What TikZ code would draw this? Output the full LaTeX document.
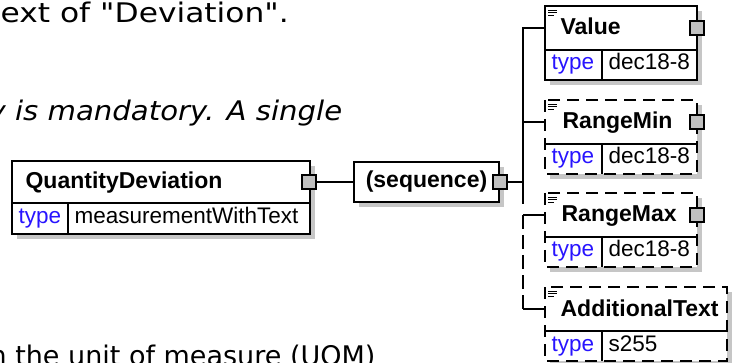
\documentclass[tikz,border=0pt]{standalone}
\usepackage{fontspec}
\usepackage{graphicx}
\usepackage{tikz}
\usepackage{xcolor}
\newfontfamily\diagfont{Liberation Sans}
\newfontfamily\descfont{DejaVu Sans}
\definecolor{shadowgray}{RGB}{198,198,198}
\definecolor{portgray}{RGB}{192,192,192}
\definecolor{typeblue}{RGB}{40,20,255}
\tikzset{
  desc/.style={font=\descfont\fontsize{27}{32}\selectfont, inner sep=0pt, anchor=base west},
  hdr/.style={font=\diagfont\bfseries\fontsize{23}{27}\selectfont, inner sep=0pt, anchor=base west},
  typelbl/.style={font=\diagfont\fontsize{22.5}{26}\selectfont, text=typeblue, inner sep=0pt, anchor=base west},
  typeval/.style={font=\diagfont\fontsize{22.5}{26}\selectfont, inner sep=0pt, anchor=base west},
  seqbox/.style={draw, fill=white, minimum width=145pt, minimum height=40pt, inner sep=0pt,
    font=\diagfont\bfseries\fontsize{23}{27}\selectfont},
  port/.style={draw, fill=portgray, minimum size=14pt, inner sep=0pt},
  optbox/.style={dash pattern=on 12pt off 7pt},
  optline/.style={dash pattern=on 14pt off 6pt},
  docicon/.style={line width=0.9pt}
}

\begin{document}
\begin{tikzpicture}[x=1pt,y=-1pt,line width=1.2pt]
\clip (0,0) rectangle (733,363);
\fill[white] (0,0) rectangle (733,363);
% page text behind the diagram
\node[desc] (line1) at (0,23) {\scalebox{1.16}[1]{ext of "Deviation".}};
\node[desc,font=\descfont\itshape\fontsize{27}{32}\selectfont] (line2) at (-12,121) {\scalebox{1.08}[1]{y is mandatory. A single}};
\node[desc] (line3) at (-11,365) {n the unit of measure (UOM)};
% QuantityDeviation
\fill[shadowgray] (17,166) rectangle (315,239);
\fill[white] (12,161) rectangle (310,234);
\draw (12,161) rectangle (310,234);
\draw (12,203) -- (310,203);
\draw (68,203) -- (68,234);
\node[hdr] (qd) at (25,189) {QuantityDeviation};
\node[typelbl] (qdtype) at (18,224) {type};
\node[typeval] (qdval) at (74,224) {measurementWithText};
\node[port] (qdport) at (309,182) {};
% (sequence)
\fill[shadowgray] (359,167) rectangle (504,207);
\node[seqbox] (seq) at (426.5,182) {(sequence)};
\node[port] (seqport) at (500,182) {};
% Value
\fill[shadowgray] (550,11) rectangle (702,85);
\fill[white] (545,6) rectangle (697,80);
\draw (545,6) rectangle (697,80);
\draw (545,50) -- (697,50);
\draw (602,50) -- (602,80);
\draw[docicon] (548,10) -- (557,10) (548,12.5) -- (557,12.5) (548,15) -- (554,15);
\node[hdr] (value) at (560,35) {Value};
\node[typelbl] (valuetype) at (551,70) {type};
\node[typeval] (valueval) at (608,70) {dec18-8};
\node[port] (valueport) at (697,28) {};
\coordinate (valuein) at (545,28);
% RangeMin
\fill[shadowgray] (550,105) rectangle (702,179);
\fill[white] (545,100) rectangle (697,174);
\draw[optbox] (545,100) rectangle (697,174);
\draw (545,144) -- (697,144);
\draw (602,144) -- (602,174);
\draw[docicon] (548,104) -- (557,104) (548,106.5) -- (557,106.5) (548,109) -- (554,109);
\node[hdr] (rmin) at (562,129) {RangeMin};
\node[typelbl] (rmintype) at (551,164) {type};
\node[typeval] (rminval) at (608,164) {dec18-8};
\node[port] (rminport) at (697,122) {};
\coordinate (rminin) at (545,122);
% RangeMax
\fill[shadowgray] (550,198) rectangle (702,272);
\fill[white] (545,193) rectangle (697,267);
\draw[optbox] (545,193) rectangle (697,267);
\draw (545,237) -- (697,237);
\draw (602,237) -- (602,267);
\draw[docicon] (548,197) -- (557,197) (548,199.5) -- (557,199.5) (548,202) -- (554,202);
\node[hdr] (rmax) at (561,222) {RangeMax};
\node[typelbl] (rmaxtype) at (551,257) {type};
\node[typeval] (rmaxval) at (608,257) {dec18-8};
\node[port] (rmaxport) at (697,215) {};
\coordinate (rmaxin) at (545,215);
% AdditionalText
\fill[shadowgray] (550,292) rectangle (732,366);
\fill[white] (545,287) rectangle (727,361);
\draw[optbox] (545,287) rectangle (727,361);
\draw (545,331) -- (727,331);
\draw (602,331) -- (602,361);
\draw[docicon] (548,291) -- (557,291) (548,293.5) -- (557,293.5) (548,296) -- (554,296);
\node[hdr] (addtext) at (560,316) {AdditionalText};
\node[typelbl] (addtype) at (551,351) {type};
\node[typeval] (addval) at (608,351) {s255};
\coordinate (addin) at (545,309);
% connectors
\coordinate (trunk) at (523,182);
\coordinate (trunkend) at (523,204);
\draw (qdport) -- (seq);
\draw (seqport) -- (trunk);
\draw (valuein) -| (trunkend);
\draw (rminin) -- (rminin -| trunk);
\draw (rmaxin) -- (rmaxin -| trunk);
\draw[optline] (rmaxin -| trunk) -- (addin -| trunk);
\draw (addin) -- (addin -| trunk);
\end{tikzpicture}
\end{document}
